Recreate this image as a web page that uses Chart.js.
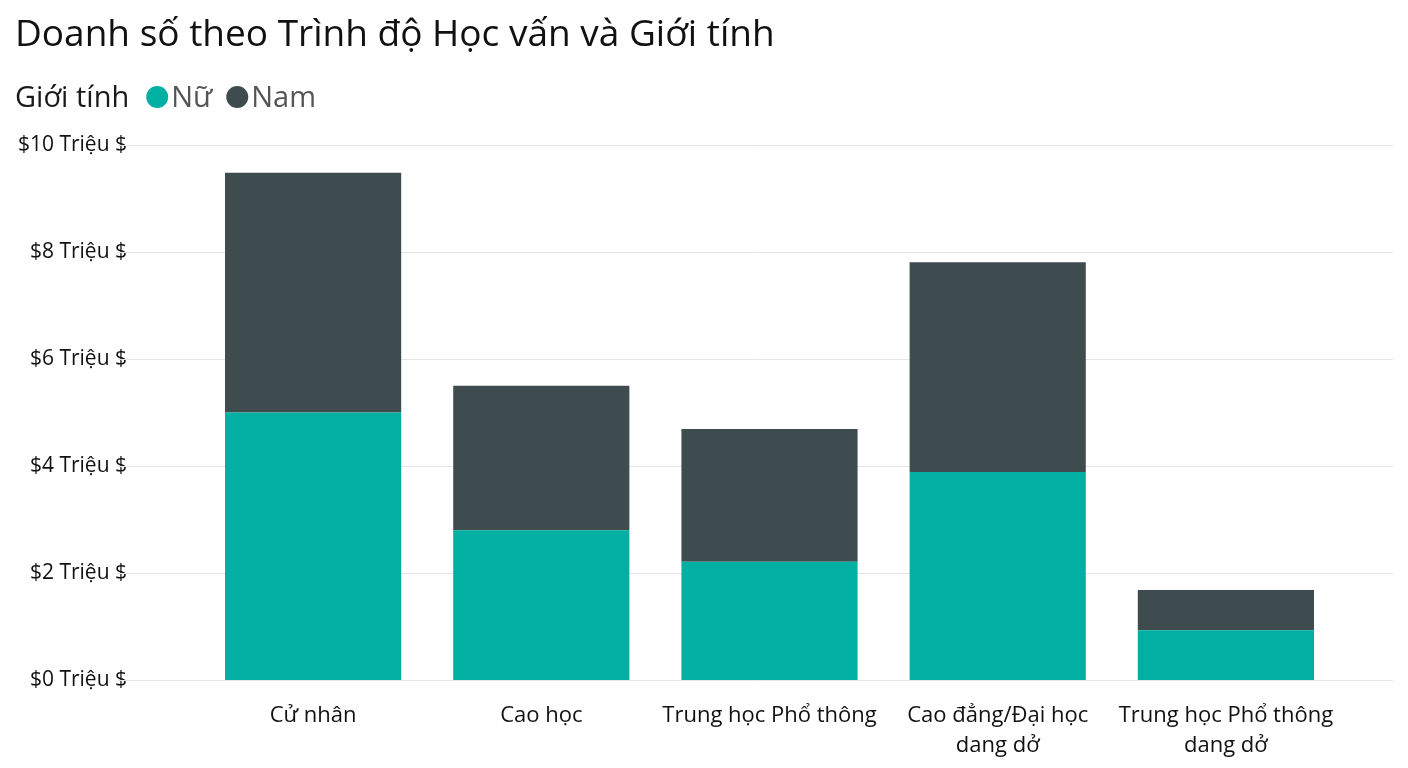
<!DOCTYPE html>
<html>
<head>
<meta charset="utf-8">
<script src="https://cdn.jsdelivr.net/npm/chart.js@4.4.1/dist/chart.umd.min.js"></script>
<style>
  html, body { margin: 0; padding: 0; background: #fff; }
  #wrap { width: 1408px; height: 768px; }
</style>
</head>
<body>
<div id="wrap"><canvas id="salesChart"></canvas></div>
<script>
// Data (millions of $)
const educationLevels = [
    'Cử nhân',
    'Cao học',
    'Trung học Phổ thông',
    ['Cao đẳng/Đại học', 'dang dở'],
    ['Trung học Phổ thông', 'dang dở']
];
const femaleSales = [5.0, 2.8, 2.21, 3.89, 0.93];
const maleSales = [4.48, 2.7, 2.48, 3.92, 0.75];
const yTicks = [0, 2, 4, 6, 8, 10];

const FONT = '"Open Sans", "Noto Sans", sans-serif';
const TEAL = '#01b0a3';
const DARK = '#3e4b4f';

// Title + inline legend, and grid lines that run wider than the bars
const headerPlugin = {
    id: 'header',
    beforeDatasetsDraw(chart) {
        const ctx = chart.ctx;
        const y = chart.scales.y;
        ctx.save();
        ctx.strokeStyle = '#e5e5e5';
        ctx.lineWidth = 1;
        y.ticks.forEach(t => {
            const py = Math.round(y.getPixelForValue(t.value)) + 0.5;
            ctx.beginPath();
            ctx.moveTo(118, py);
            ctx.lineTo(1393, py);
            ctx.stroke();
        });
        ctx.restore();
    },
    afterDraw(chart) {
        const ctx = chart.ctx;
        ctx.save();
        ctx.textBaseline = 'alphabetic';
        ctx.fillStyle = '#111';
        ctx.font = '37px ' + FONT;
        ctx.fillText('Doanh số theo Trình độ Học vấn và Giới tính', 15, 46);

        ctx.font = '29px ' + FONT;
        ctx.fillStyle = '#1a1a1a';
        ctx.fillText('Giới tính', 15, 107);
        let x = 15 + ctx.measureText('Giới tính').width + 17;
        chart.data.datasets.forEach(ds => {
            ctx.fillStyle = ds.backgroundColor;
            ctx.beginPath();
            ctx.arc(x + 11, 97, 11, 0, Math.PI * 2);
            ctx.fill();
            ctx.fillStyle = '#555';
            ctx.fillText(ds.label, x + 25, 107);
            x += 25 + ctx.measureText(ds.label).width + 14;
        });
        ctx.restore();
    }
};

const ctx = document.getElementById('salesChart').getContext('2d');
const salesChart = new Chart(ctx, {
    type: 'bar',
    data: {
        labels: educationLevels,
        datasets: [
            { label: 'Nữ', data: femaleSales, backgroundColor: TEAL },
            { label: 'Nam', data: maleSales, backgroundColor: DARK }
        ]
    },
    options: {
        responsive: true,
        maintainAspectRatio: false,
        animation: false,
        layout: { padding: { top: 145, right: 68, bottom: 0, left: 0 } },
        plugins: {
            legend: { display: false },
            title: { display: false },
            tooltip: { enabled: false }
        },
        datasets: {
            bar: { categoryPercentage: 1, barPercentage: 0.772 }
        },
        scales: {
            x: {
                stacked: true,
                grid: { display: false, drawTicks: false },
                border: { display: false },
                afterFit(scale) { scale.height = 88; },
                ticks: {
                    color: '#111',
                    padding: 21,
                    maxRotation: 0,
                    font: { family: FONT, size: 22, lineHeight: 1.36 }
                }
            },
            y: {
                stacked: true,
                min: 0,
                max: 10,
                afterFit(scale) { scale.width = 199; },
                afterBuildTicks(scale) { scale.ticks = yTicks.map(v => ({ value: v })); },
                grid: { display: false, drawTicks: false },
                border: { display: false },
                ticks: {
                    color: '#111',
                    padding: 72,
                    font: { family: FONT, size: 21 },
                    callback: v => '$' + v + ' Triệu $'
                }
            }
        }
    },
    plugins: [headerPlugin]
});
</script>
</body>
</html>
